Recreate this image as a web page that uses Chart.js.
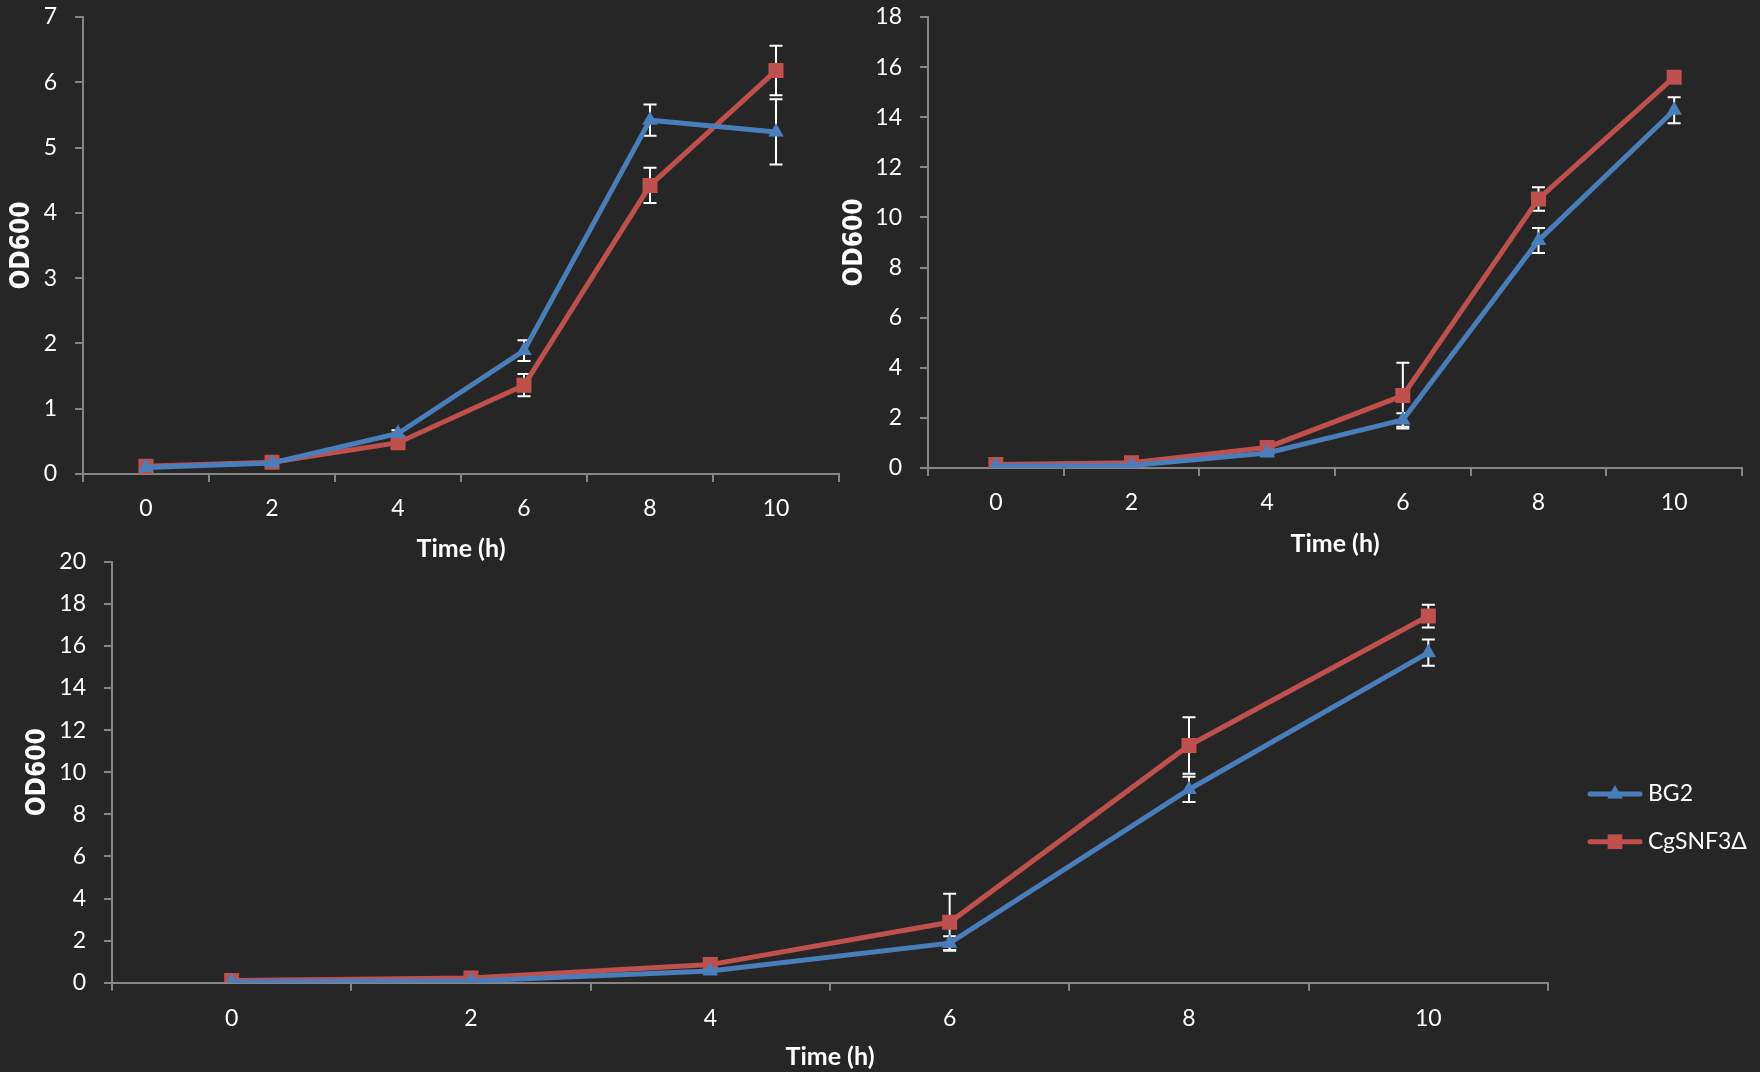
<!DOCTYPE html>
<html>
<head>
<meta charset="utf-8">
<script src="https://cdn.jsdelivr.net/npm/chart.js@4.4.1/dist/chart.umd.min.js"></script>
<style>
  html, body { margin: 0; padding: 0; background: #262626; overflow: hidden; }
  body { width: 1760px; height: 1072px; position: relative; }
  canvas { position: absolute; }
</style>
</head>
<body>
<canvas id="chartA" width="860" height="580" style="left:0;top:0"></canvas>
<canvas id="chartB" width="925" height="580" style="left:835px;top:0"></canvas>
<canvas id="chartC" width="1760" height="532" style="left:0;top:540px"></canvas>
<script>
// Growth curves, OD600 vs time
const hours = ['0', '2', '4', '6', '8', '10'];
const seriesNames = ['BG2', 'CgSNF3Δ'];

// panel A (top left)
const bg2A = [0.10, 0.17, 0.62, 1.89, 5.42, 5.24];
const bg2AErr = [0.01, 0.02, 0.05, 0.16, 0.24, 0.50];
const snfA = [0.12, 0.18, 0.48, 1.36, 4.42, 6.18];
const snfAErr = [0.01, 0.02, 0.04, 0.17, 0.27, 0.38];
const ticksA = { max: 7, step: 1 };

// panel B (top right)
const bg2B = [0.08, 0.10, 0.60, 1.92, 9.08, 14.28];
const bg2BErr = [0.02, 0.02, 0.08, 0.27, 0.50, 0.52];
const snfB = [0.14, 0.21, 0.82, 2.89, 10.74, 15.60];
const snfBErr = [0.02, 0.03, 0.10, 1.31, 0.47, 0.15];
const ticksB = { max: 18, step: 2 };

// panel C (bottom)
const bg2C = [0.05, 0.08, 0.56, 1.88, 9.18, 15.68];
const bg2CErr = [0.02, 0.02, 0.08, 0.33, 0.60, 0.62];
const snfC = [0.11, 0.22, 0.86, 2.87, 11.27, 17.42];
const snfCErr = [0.02, 0.03, 0.10, 1.35, 1.34, 0.54];
const ticksC = { max: 20, step: 2 };

const BLUE = '#4A7EBB';
const RED = '#C0504D';
const AXIS = '#868686';
const TEXT = '#ffffff';
const NARROW = "'Liberation Sans Narrow', 'DejaVu Sans Condensed', sans-serif";

const errorBars = {
    id: 'errorBars',
    beforeDatasetsDraw(chart) {
        const ctx = chart.ctx;
        const y = chart.scales.y;
        ctx.save();
        ctx.strokeStyle = '#ffffff';
        ctx.lineWidth = 2;
        chart.data.datasets.forEach((ds, i) => {
            chart.getDatasetMeta(i).data.forEach((pt, j) => {
                const v = ds.data[j], e = ds.errors[j];
                const top = y.getPixelForValue(v + e);
                const bot = y.getPixelForValue(v - e);
                ctx.beginPath();
                ctx.moveTo(pt.x, top); ctx.lineTo(pt.x, bot);
                ctx.moveTo(pt.x - 6.5, top); ctx.lineTo(pt.x + 6.5, top);
                ctx.moveTo(pt.x - 6.5, bot); ctx.lineTo(pt.x + 6.5, bot);
                ctx.stroke();
            });
        });
        ctx.restore();
    }
};

const legendBox = {
    id: 'legendBox',
    afterDraw(chart) {
        const ctx = chart.ctx;
        const rows = [
            { name: seriesNames[0], color: BLUE, style: 'triangle', radius: 9, y: 254 },
            { name: seriesNames[1], color: RED, style: 'rect', radius: 10.4, y: 301.7 }
        ];
        ctx.save();
        rows.forEach(r => {
            ctx.strokeStyle = r.color;
            ctx.lineWidth = 5;
            ctx.lineCap = 'round';
            ctx.beginPath();
            ctx.moveTo(1590, r.y); ctx.lineTo(1640, r.y);
            ctx.stroke();
            ctx.fillStyle = r.color;
            Chart.helpers.drawPoint(ctx, { pointStyle: r.style, radius: r.radius, borderWidth: 0 }, 1615, r.y);
            ctx.fillStyle = TEXT;
            ctx.font = '23px Lato';
            ctx.textBaseline = 'middle';
            ctx.fillText(r.name, 1648, r.y);
        });
        ctx.restore();
    }
};

function makeSeries(label, data, errors, color, style, radius) {
    return {
        label: label,
        data: data,
        errors: errors,
        borderColor: color,
        backgroundColor: color,
        borderWidth: 5,
        pointStyle: style,
        pointRadius: radius,
        pointBorderWidth: 0,
        pointBackgroundColor: color,
        tension: 0
    };
}

function makeChart(id, panel) {
    const ctx = document.getElementById(id);
    return new Chart(ctx, {
        type: 'line',
        data: {
            labels: hours,
            datasets: [
                makeSeries(seriesNames[0], panel.bg2, panel.bg2Err, BLUE, 'triangle', 9),
                makeSeries(seriesNames[1], panel.snf, panel.snfErr, RED, 'rect', 10.6)
            ]
        },
        options: {
            responsive: false,
            animation: false,
            layout: { padding: { top: panel.top, right: panel.right, left: 0, bottom: 0 } },
            plugins: { legend: { display: false }, tooltip: { enabled: false } },
            scales: {
                x: {
                    type: 'category',
                    offset: true,
                    grid: { offset: true, drawOnChartArea: false, tickLength: 8, color: AXIS, lineWidth: 2 },
                    border: { color: AXIS, width: 2 },
                    ticks: { color: TEXT, font: { family: 'Lato', size: 23 }, padding: panel.xPad, maxRotation: 0 },
                    title: {
                        display: true, text: 'Time (h)', color: TEXT,
                        font: { family: 'Lato', size: 25, weight: 'bold' },
                        padding: { top: 0, bottom: panel.xTitlePad }
                    },
                    afterFit: s => { s.height = panel.xHeight; s.paddingLeft = 0; s.paddingRight = 0; }
                },
                y: {
                    min: 0,
                    max: panel.ticks.max,
                    grid: { drawOnChartArea: false, tickLength: 8, color: AXIS, lineWidth: 2 },
                    border: { color: AXIS, width: 2 },
                    ticks: { stepSize: panel.ticks.step, color: TEXT, font: { family: 'Lato', size: 23 }, padding: 18 },
                    title: {
                        display: true, text: 'OD600', color: TEXT,
                        font: { family: NARROW, size: 26, weight: 'bold' },
                        padding: { top: panel.yTitlePad, bottom: 0 }
                    },
                    afterFit: s => { s.width = panel.yWidth; s.paddingTop = 0; s.paddingBottom = 0; }
                }
            }
        },
        plugins: panel.legend ? [errorBars, legendBox] : [errorBars]
    });
}

makeChart('chartA', {
    bg2: bg2A, bg2Err: bg2AErr, snf: snfA, snfErr: snfAErr, ticks: ticksA,
    top: 17, right: 21, yWidth: 83, xHeight: 106, xPad: 13, xTitlePad: 16.5, yTitlePad: 7
});
makeChart('chartB', {
    bg2: bg2B, bg2Err: bg2BErr, snf: snfB, snfErr: snfBErr, ticks: ticksB,
    top: 17, right: 18, yWidth: 93, xHeight: 112, xPad: 13, xTitlePad: 21.5, yTitlePad: 4.5
});
makeChart('chartC', {
    bg2: bg2C, bg2Err: bg2CErr, snf: snfC, snfErr: snfCErr, ticks: ticksC,
    top: 21.7, right: 212, yWidth: 112, xHeight: 89.3, xPad: 14, xTitlePad: 0, yTitlePad: 22.5,
    legend: true
});
</script>
</body>
</html>
